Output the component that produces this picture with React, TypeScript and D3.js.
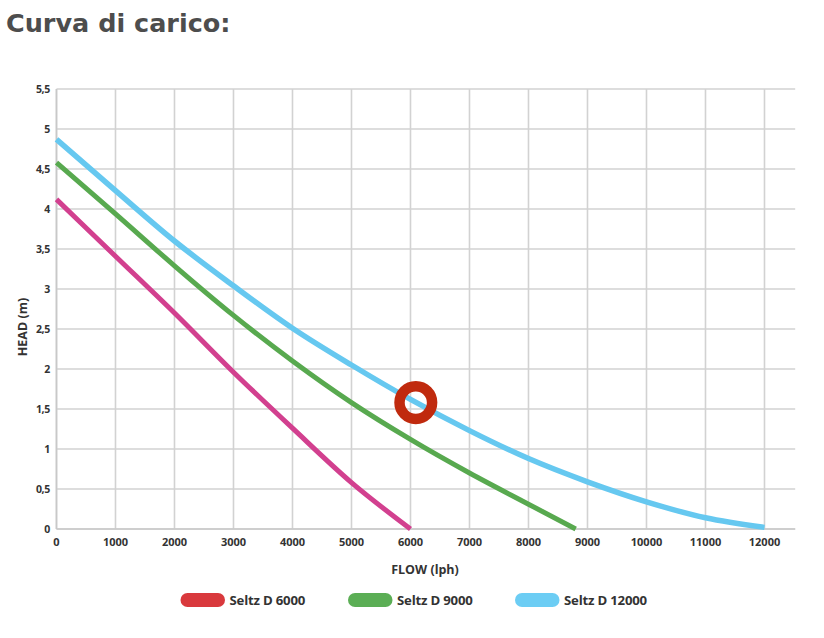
import React from "react";
import * as d3 from "d3";

const flowTicks = [0, 1000, 2000, 3000, 4000, 5000, 6000, 7000, 8000, 9000, 10000, 11000, 12000];
const headTicks = [0, 0.5, 1, 1.5, 2, 2.5, 3, 3.5, 4, 4.5, 5, 5.5];
const headLabels = ["0", "0,5", "1", "1,5", "2", "2,5", "3", "3,5", "4", "4,5", "5", "5,5"];

const flowD6000 = [0, 1000, 2000, 3000, 4000, 5000, 6000];
const headD6000 = [4.12, 3.41, 2.7, 1.96, 1.26, 0.58, 0.0];
const flowD9000 = [0, 1000, 2000, 3000, 4000, 5000, 6000, 7000, 8000, 8800];
const headD9000 = [4.58, 3.94, 3.29, 2.67, 2.1, 1.58, 1.12, 0.7, 0.31, 0.0];
const flowD12000 = [0, 1000, 2000, 3000, 4000, 5000, 6000, 7000, 8000, 9000, 10000, 11000, 12000];
const headD12000 = [4.87, 4.23, 3.6, 3.04, 2.51, 2.05, 1.62, 1.23, 0.88, 0.59, 0.34, 0.14, 0.02];

const seriesNames = ["Seltz D 6000", "Seltz D 9000", "Seltz D 12000"];
const lineColors = ["#d2408f", "#58a94f", "#66c8f0"];
const legendColors = ["#d9393d", "#5bae55", "#6ccdf4"];

const markerFlow = 6090;
const markerHead = 1.58;

export default function App() {
  const W = 824, H = 638;
  const x = d3.scaleLinear().domain([0, 12000]).range([56.5, 764.5]);
  const y = d3.scaleLinear().domain([0, 5.5]).range([529, 89]);
  const xEnd = x(12520);

  const series = [
    flowD6000.map((f, i) => [f, headD6000[i]]),
    flowD9000.map((f, i) => [f, headD9000[i]]),
    flowD12000.map((f, i) => [f, headD12000[i]]),
  ];
  const line = d3
    .line<number[]>()
    .x((d) => x(d[0]))
    .y((d) => y(d[1]))
    .curve(d3.curveMonotoneX);

  const tickFont = "'Open Sans', 'DejaVu Sans', sans-serif";
  const legendX = [180.5, 348, 515];

  return (
    <svg
      width={W}
      height={H}
      style={{ position: "absolute", left: 0, top: 0, background: "#fff" }}
    >
      <text
        x={6}
        y={32}
        fontFamily="'DejaVu Sans', Verdana, sans-serif"
        fontWeight="bold"
        fontSize={25.5}
        fill="#4d4d4d"
      >
        Curva di carico:
      </text>

      {/* grid */}
      {headTicks.map((t) => (
        <line key={"h" + t} x1={x(0)} x2={xEnd} y1={y(t)} y2={y(t)} stroke="#d2d2d2" strokeWidth={1.6} />
      ))}
      {flowTicks.map((t) => (
        <line key={"v" + t} x1={x(t)} x2={x(t)} y1={y(5.5)} y2={y(0)} stroke="#d2d2d2" strokeWidth={1.6} />
      ))}
      <line x1={x(0)} x2={xEnd} y1={y(0)} y2={y(0)} stroke="#c8c8c8" strokeWidth={1.6} />
      <line x1={x(0)} x2={x(0)} y1={y(5.5)} y2={y(0)} stroke="#c8c8c8" strokeWidth={1.6} />

      {/* tick labels */}
      {headTicks.map((t, i) => (
        <text
          key={"yl" + t}
          x={50}
          y={y(t) + 3.5}
          textAnchor="end"
          fontFamily={tickFont}
          fontWeight="bold"
          fontSize={10.5}
          fill="#333"
          letterSpacing={-0.3}
        >
          {headLabels[i]}
        </text>
      ))}
      {flowTicks.map((t) => (
        <text
          key={"xl" + t}
          x={x(t)}
          y={546}
          textAnchor="middle"
          fontFamily={tickFont}
          fontWeight="bold"
          fontSize={11}
          fill="#333"
        >
          {t}
        </text>
      ))}

      <text
        x={425}
        y={574}
        textAnchor="middle"
        fontFamily={tickFont}
        fontWeight="bold"
        fontSize={12.5}
        fill="#333"
      >
        FLOW (lph)
      </text>
      <text
        transform={`translate(26.5, 327) rotate(-90)`}
        textAnchor="middle"
        fontFamily={tickFont}
        fontWeight="bold"
        fontSize={12.5}
        fill="#333"
      >
        HEAD (m)
      </text>

      {/* curves */}
      {series.map((s, i) => (
        <path
          key={"s" + i}
          d={line(s) || ""}
          fill="none"
          stroke={lineColors[i]}
          strokeWidth={i === 2 ? 5.5 : 5}
          strokeLinecap="butt"
        />
      ))}

      {/* marker */}
      <circle cx={x(markerFlow)} cy={y(markerHead)} r={16.3} fill="none" stroke="#c02a0e" strokeWidth={10.5} />

      {/* legend */}
      {seriesNames.map((n, i) => (
        <g key={"lg" + i}>
          <rect x={legendX[i]} y={593} width={44.5} height={14} rx={7} fill={legendColors[i]} />
          <text
            x={legendX[i] + 49}
            y={604.5}
            fontFamily={tickFont}
            fontWeight="bold"
            fontSize={13.2}
            fill="#333"
            letterSpacing={-0.2}
          >
            {n}
          </text>
        </g>
      ))}
    </svg>
  );
}
